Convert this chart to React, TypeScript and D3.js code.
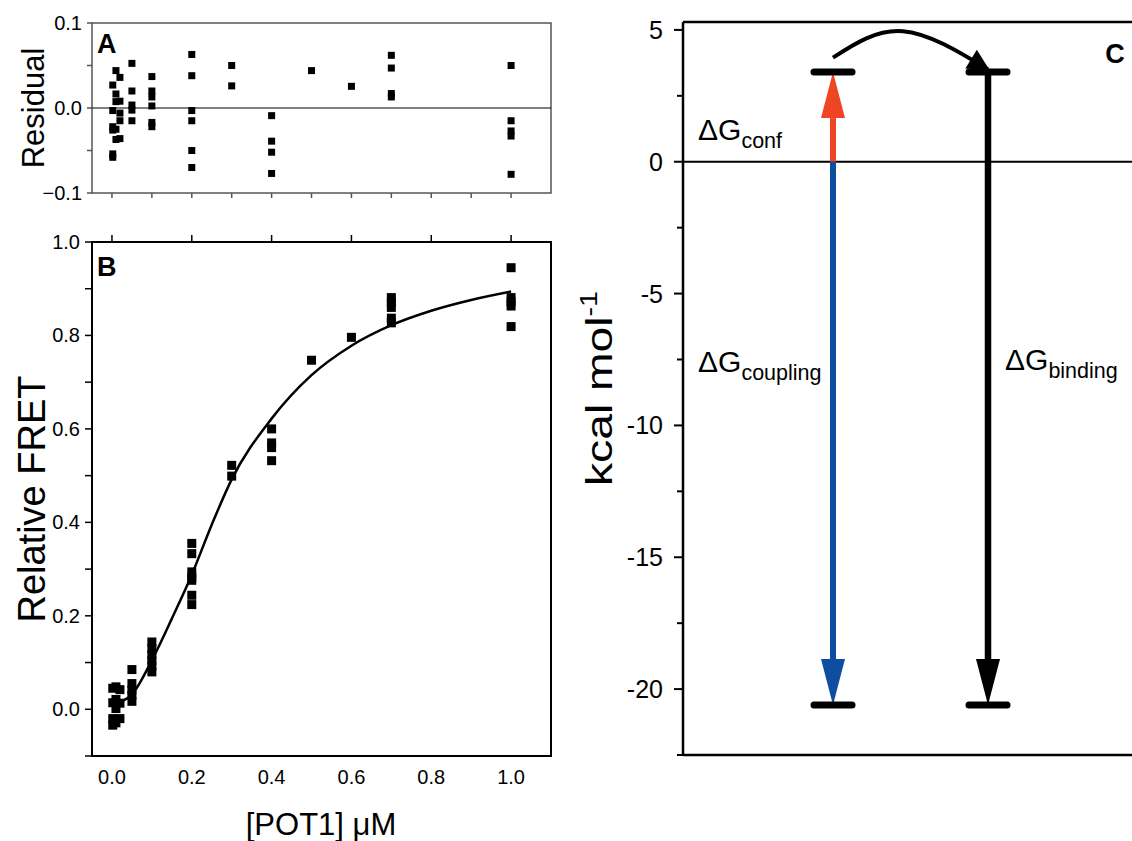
import React from 'react'
import * as d3 from 'd3'

// panel A: residuals, grouped by concentration
const resX = [0.002, 0.01, 0.02, 0.05, 0.1, 0.2, 0.3, 0.4, 0.5, 0.6, 0.7, 1.0]
const resY = [
  [0.027, -0.003, -0.022, -0.026, -0.054, -0.058],
  [0.044, 0.0165, 0.0075, -0.025, -0.037],
  [0.036, 0.008, -0.006, -0.015, -0.036],
  [0.0525, 0.02, 0.0035, -0.0025, -0.015],
  [0.037, 0.02, 0.013, 0.0024, -0.017, -0.022],
  [0.063, 0.038, -0.003, -0.015, -0.05, -0.07],
  [0.05, 0.026],
  [-0.009, -0.039, -0.052, -0.077],
  [0.044],
  [0.0255],
  [0.062, 0.047, 0.017, 0.013],
  [0.05, -0.015, -0.027, -0.033, -0.078],
]

// panel B: relative FRET
const fretX = [0.002, 0.01, 0.02, 0.05, 0.1, 0.2, 0.3, 0.4, 0.5, 0.6, 0.7, 1.0]
const fretY = [
  [0.045, 0.014, -0.02, -0.034],
  [0.048, 0.021, 0.0015, -0.029],
  [0.042, 0.013, -0.02],
  [0.085, 0.055, 0.041, 0.03, 0.017],
  [0.144, 0.13, 0.116, 0.105, 0.093, 0.08],
  [0.355, 0.333, 0.294, 0.282, 0.276, 0.244, 0.224],
  [0.522, 0.499],
  [0.6, 0.57, 0.56, 0.532],
  [0.747],
  [0.796],
  [0.881, 0.871, 0.86, 0.837, 0.827],
  [0.945, 0.881, 0.872, 0.863, 0.819],
]
const fitX = [0.005, 0.05, 0.1, 0.15, 0.2, 0.25, 0.3, 0.4, 0.5, 0.6, 0.7, 0.8, 0.9, 1.0]
const fitY = [0.012, 0.032, 0.105, 0.194, 0.288, 0.395, 0.492, 0.622, 0.715, 0.778, 0.822, 0.853, 0.876, 0.894]

const xTicks = [0, 0.2, 0.4, 0.6, 0.8, 1.0]

// panel C: energy levels (kcal/mol)
const dGconf = 3.4
const dGbound = -20.6
const cTicks = [5, 0, -5, -10, -15, -20]

const W = 1132
const H = 841
const font = 'Liberation Sans, Arial, sans-serif'

export default function App() {
  const x = d3.scaleLinear().domain([-0.05, 1.1]).range([92, 551])
  const yA = d3.scaleLinear().domain([-0.1, 0.1]).range([193, 23])
  const yB = d3.scaleLinear().domain([-0.1, 1.0]).range([756, 242])
  const yC = d3.scaleLinear().domain([-22.5, 5.3]).range([755, 22])
  const xC = d3.scaleLinear().domain([0, 1]).range([833, 988])
  const cLeft = 683

  const fitLine = d3.line<number>()
    .x((d, i) => x(fitX[i]))
    .y(d => yB(d))
    .curve(d3.curveMonotoneX)

  const arcLine = d3.line<[number, number]>()
    .x(d => xC(d[0]))
    .y(d => yC(d[1]))
    .curve(d3.curveNatural)

  const arrows = [
    { col: 0, from: 0, to: dGconf, color: '#EE4625', w: 6 },
    { col: 0, from: 0, to: dGbound, color: '#0E4DA0', w: 6 },
    { col: 1, from: dGconf, to: dGbound, color: '#000', w: 6.5 },
  ]
  const headL = 46
  const headW = 12

  return (
    <svg width={W} height={H} style={{ position: 'absolute', left: 0, top: 0, background: '#fff' }}
      fontFamily={font}>
      <defs>
        <marker id="ah" viewBox="0 0 10 10" refX="9" refY="5" markerWidth="30" markerHeight="22"
          markerUnits="userSpaceOnUse" orient="auto">
          <path d="M0,0 L10,5 L0,10 z" fill="#000" />
        </marker>
      </defs>

      {/* ---------- panel A ---------- */}
      <rect x={x(-0.05)} y={yA(0.1)} width={x(1.1) - x(-0.05)} height={yA(-0.1) - yA(0.1)}
        fill="none" stroke="#555" strokeWidth={1.5} />
      <line x1={x(-0.05)} x2={x(1.1)} y1={yA(0)} y2={yA(0)} stroke="#000" strokeWidth={1.2} />
      {[-0.1, -0.05, 0, 0.05, 0.1].map(t => (
        <line key={t} x1={x(-0.05)} x2={x(-0.05) - 5} y1={yA(t)} y2={yA(t)} stroke="#555" strokeWidth={1.5} />
      ))}
      {[-0.1, 0, 0.1].map(t => (
        <text key={t} x={82} y={yA(t) + 7} textAnchor="end" fontSize={20}>{d3.format('.1f')(t)}</text>
      ))}
      {d3.range(0, 11).map(i => (
        <line key={i} x1={x(i / 10)} x2={x(i / 10)} y1={yA(-0.1)} y2={yA(-0.1) + 5} stroke="#555" strokeWidth={1.5} />
      ))}
      {resX.map((cx, i) => resY[i].map((v, j) => (
        <rect key={`a${i}-${j}`} x={x(cx) - 3.5} y={yA(v) - 3.5} width={7} height={7} fill="#000" />
      )))}
      <text x={97} y={53} fontSize={27} fontWeight="bold">A</text>
      <text transform={`translate(44,${yA(0)}) rotate(-90)`} textAnchor="middle" fontSize={31}>Residual</text>

      {/* ---------- panel B ---------- */}
      <rect x={x(-0.05)} y={yB(1.0)} width={x(1.1) - x(-0.05)} height={yB(-0.1) - yB(1.0)}
        fill="none" stroke="#000" strokeWidth={2} />
      {d3.range(-1, 11).map(i => (
        <line key={i} x1={x(-0.05)} x2={x(-0.05) - 7} y1={yB(i / 10)} y2={yB(i / 10)} stroke="#000" strokeWidth={1.5} />
      ))}
      {[0, 0.2, 0.4, 0.6, 0.8, 1.0].map(t => (
        <text key={t} x={80} y={yB(t) + 7} textAnchor="end" fontSize={20}>{d3.format('.1f')(t)}</text>
      ))}
      {xTicks.map(t => (
        <g key={t}>
          <line x1={x(t)} x2={x(t)} y1={yB(1.0)} y2={yB(1.0) - 7} stroke="#000" strokeWidth={1.5} />
          <text x={x(t)} y={784} textAnchor="middle" fontSize={20}>{d3.format('.1f')(t)}</text>
        </g>
      ))}
      <path d={fitLine(fitY) || ''} fill="none" stroke="#000" strokeWidth={2.5} />
      {fretX.map((cx, i) => fretY[i].map((v, j) => (
        <rect key={`b${i}-${j}`} x={x(cx) - 4.5} y={yB(v) - 4.5} width={9} height={9} fill="#000" />
      )))}
      <text x={97} y={276} fontSize={27} fontWeight="bold">B</text>
      <text transform={`translate(45,${yB(0.45)}) rotate(-90)`} textAnchor="middle" fontSize={38}>Relative FRET</text>
      <text x={321} y={835} textAnchor="middle" fontSize={31}>[POT1] μM</text>

      {/* ---------- panel C ---------- */}
      <line x1={cLeft} x2={W} y1={yC(5.3)} y2={yC(5.3)} stroke="#000" strokeWidth={2.5} />
      <line x1={cLeft} x2={W} y1={yC(-22.5)} y2={yC(-22.5)} stroke="#000" strokeWidth={2.5} />
      <line x1={cLeft} x2={cLeft} y1={yC(5.3)} y2={yC(-22.5)} stroke="#000" strokeWidth={2.5} />
      <line x1={cLeft} x2={W} y1={yC(0)} y2={yC(0)} stroke="#000" strokeWidth={2} />
      {d3.range(-22.5, 5.1, 2.5).map(t => (
        <line key={t} x1={cLeft} x2={cLeft - (t % 5 === 0 ? 9 : 6)} y1={yC(t)} y2={yC(t)} stroke="#000" strokeWidth={2} />
      ))}
      {cTicks.map(t => (
        <text key={t} x={663} y={yC(t) + 9} textAnchor="end" fontSize={25}>{t}</text>
      ))}

      {arrows.map((a, i) => {
        const dir = a.to > a.from ? 1 : -1
        const tip = yC(a.to)
        const base = tip + dir * headL
        const cx = xC(a.col)
        return (
          <g key={i}>
            <line x1={cx} x2={cx} y1={yC(a.from)} y2={base} stroke={a.color} strokeWidth={a.w} />
            <path d={`M${cx - headW},${base} L${cx + headW},${base} L${cx},${tip} Z`} fill={a.color} />
          </g>
        )
      })}
      {[dGconf, dGbound].map(e => [0, 1].map(c => (
        <line key={`${e}-${c}`} x1={xC(c) - 19} x2={xC(c) + 19} y1={yC(e)} y2={yC(e)}
          stroke="#000" strokeWidth={7} strokeLinecap="round" />
      )))}
      <path d={arcLine([[0, 3.95], [0.45, 4.95], [1.0, 3.5]]) || ''} fill="none" stroke="#000"
        strokeWidth={4} markerEnd="url(#ah)" />

      <text x={698} y={140} fontSize={30}>ΔG<tspan fontSize={21.5} dy={8}>conf</tspan></text>
      <text x={698} y={372} fontSize={30}>ΔG<tspan fontSize={21.5} dy={8}>coupling</tspan></text>
      <text x={1005} y={370} fontSize={30}>ΔG<tspan fontSize={21.5} dy={8}>binding</tspan></text>
      <text transform={`translate(612,${yC(-8.6)}) rotate(-90) scale(1.25,1)`} textAnchor="middle" fontSize={37}>
        kcal mol<tspan fontSize={23} dy={-15}>-1</tspan>
      </text>
      <rect x={1096} y={32} width={36} height={40} fill="#fff" />
      <text x={1115} y={63} textAnchor="middle" fontSize={27} fontWeight="bold">C</text>
    </svg>
  )
}
